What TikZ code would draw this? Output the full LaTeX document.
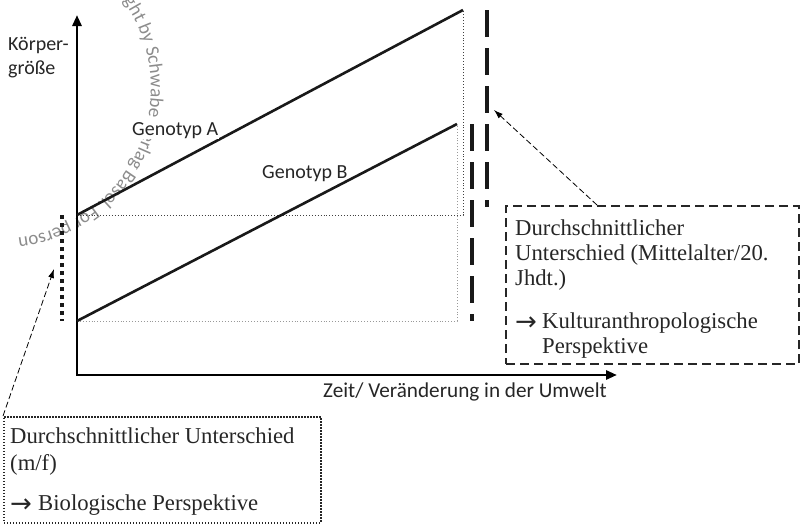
\documentclass[tikz,border=0pt]{standalone}
\usepackage{fontspec}
\setmainfont{Liberation Serif}
\newfontfamily\carl{Carlito}
\newfontfamily\djv{DejaVu Sans}
\usetikzlibrary{arrows.meta,decorations.text}
\newcommand{\rarr}[1]{\makebox[#1][l]{\raisebox{-2.5pt}{\djv\fontsize{26}{26}\selectfont →}}}
\begin{document}
\begin{tikzpicture}[x=1pt,y=1pt,
  axis/.style={line width=2.8pt, line join=miter, {Triangle[length=11pt,width=9pt]}-{Triangle[length=11pt,width=9pt]}},
  geno/.style={line width=2.6pt, color=black!90},
  guideA/.style={line width=0.9pt, dotted, black!75},
  guideB/.style={line width=0.9pt, dotted, black!40},
  bigdash/.style={line width=4pt, dash pattern=on 27pt off 11pt, black!90},
  bigdot/.style={line width=4pt, dash pattern=on 4pt off 4pt, black!90},
  sans/.style={font=\carl\fontsize{20}{24}\selectfont, inner sep=0pt, anchor=base west, text=black!85},
  serif/.style={font=\fontsize{22.7}{25}\selectfont, inner sep=0pt, anchor=base west, text=black!85},
  callout/.style={line width=0.8pt, dash pattern=on 6pt off 3pt, -{Latex[length=9pt,width=6pt]}},
  dotbox/.style={draw, line width=1.5pt, dash pattern=on 1.5pt off 1.5pt, black!85, inner sep=0pt, anchor=north west},
  dashbox/.style={draw, line width=2pt, dash pattern=on 9pt off 5pt, black!85, inner sep=0pt, anchor=north west},
  ]
\useasboundingbox (0,0) rectangle (801,-525);

% watermark
\path[decorate, decoration={text along path, text color=black!45,
  text={|\carl\fontsize{19}{19}\selectfont|ght by Schwabe Verlag Basel. For person}, text align=left}]
  (123.3,-1.0) arc[start angle=35.2, end angle=-96, radius=151];

% coordinates
\coordinate (O) at (77,-375);
\coordinate (ytop) at (77,-15);
\coordinate (xend) at (617,-375);
\coordinate (A0) at (77,-215);
\coordinate (A1) at (463,-10);
\coordinate (B0) at (77,-321);
\coordinate (B1) at (457,-124);

% guides
\draw[guideA] (A0) -- (A0 -| A1) -- (A1);
\draw[guideB] (B0) -- (B0 -| B1) -- (B1);

% axes
\draw[axis] (ytop) -- (O) -- (xend);

% genotype lines
\draw[geno] (A0) -- (A1);
\draw[geno] (B0) -- (B1);

% difference markers
\coordinate (d1t) at (487,-10);
\coordinate (d1b) at (487,-207);
\coordinate (d2t) at (472,-124);
\coordinate (d2b) at (472,-321);
\coordinate (d3t) at (62,-215);
\coordinate (d3b) at (62,-321);
\draw[bigdash] (d1t) -- (d1b);
\draw[bigdash] (d2t) -- (d2b);
\draw[bigdot] (d3t) -- (d3b);

% labels
\node[sans] (k1) at (8,-50) {Körper-};
\node[sans] (k2) at (8,-74) {größe};
\node[sans, fill=white, inner sep=1pt] (ga) at (131,-135) {Genotyp A};
\node[sans] (gb) at (262,-178) {Genotyp B};
\node[sans, font=\carl\fontsize{21.2}{24}\selectfont] (zx) at (323,-397) {Zeit/ Veränderung in der Umwelt};

% boxes
\node[dotbox, minimum width=317pt, minimum height=106pt] (lbox) at (3,-416) {};
\node[dashbox, minimum width=293pt, minimum height=158pt] (rbox) at (505,-205) {};

\node[serif] (l1) at (10,-443) {Durchschnittlicher Unterschied};
\node[serif] (l2) at (10,-470) {(m/f)};
\node[serif] (l3) at (10,-510) {\rarr{28pt}Biologische Perspektive};

\node[serif] (r1) at (515,-235) {Durchschnittlicher};
\node[serif] (r2) at (515,-260) {Unterschied (Mittelalter/20.};
\node[serif] (r3) at (515,-285) {Jhdt.)};
\node[serif] (r4) at (515,-328) {\rarr{27pt}Kulturanthropologische};
\node[serif] (r5) at (542,-353) {Perspektive};

% callouts
\coordinate (lt) at (54,-269);
\coordinate (rs) at (597,-205);
\coordinate (rt) at (494,-110);
\draw[callout] (lbox.north west) -- (lt);
\draw[callout] (rs) -- (rt);
\end{tikzpicture}
\end{document}
